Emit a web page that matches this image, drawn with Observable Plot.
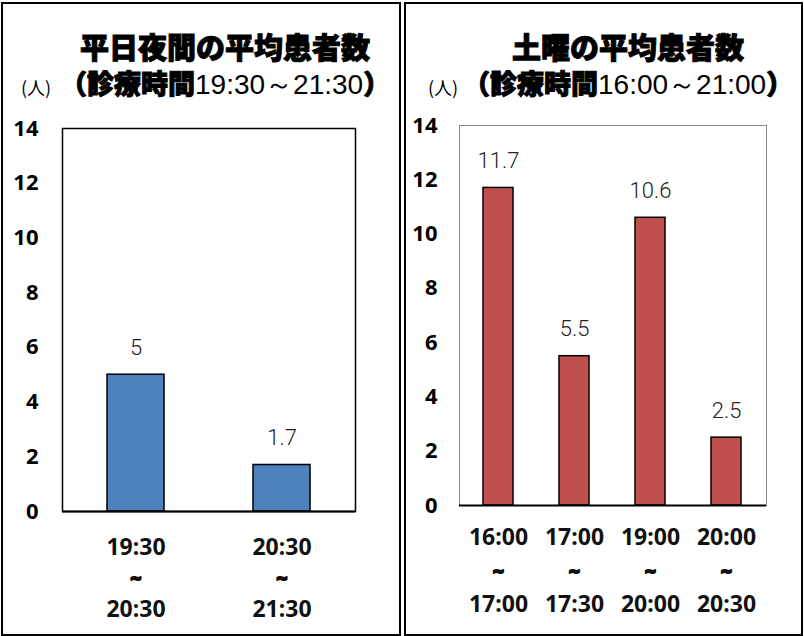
<!DOCTYPE html>
<html><head><meta charset="utf-8">
<script src="https://cdn.jsdelivr.net/npm/d3@7"></script>
<script src="https://cdn.jsdelivr.net/npm/@observablehq/plot@0.6"></script>
<style>
body{margin:0;width:804px;height:636px;position:relative;background:#fff;overflow:hidden;font-family:"Noto Sans CJK JP",sans-serif;color:#000;}
.panel{position:absolute;border:2px solid #000;box-sizing:border-box;}
.abs{position:absolute;white-space:nowrap;line-height:1;}
.title{font-size:29px;font-weight:900;text-align:center;-webkit-text-stroke:1px #000;}
.sub{font-size:27px;}
.sub b{font-weight:900;-webkit-text-stroke:1px #000;}
.sub span{font-family:"Liberation Sans",sans-serif;font-weight:400;font-size:28px;}
.unit{font-size:18px;}
.chart{position:absolute;top:0;}
</style></head><body>
<div class="panel" style="left:1px;top:2px;width:400px;height:634px"></div>
<div class="panel" style="left:404px;top:2px;width:399px;height:634px"></div>
<div class="abs title" style="left:0;top:32px;width:450px">平日夜間の平均患者数</div>
<div class="abs title" style="left:403px;top:32px;width:450px">土曜の平均患者数</div>
<div class="abs unit" style="left:21px;top:78px">(人)</div>
<div class="abs unit" style="left:428px;top:78px">(人)</div>
<div class="abs sub" style="left:60px;top:69px"><b>（診療時間</b><span>19:30～21:30</span><b>）</b></div>
<div class="abs sub" style="left:463px;top:69px"><b>（診療時間</b><span>16:00～21:00</span><b>）</b></div>
<div id="c1" class="chart" style="left:0"></div>
<div id="c2" class="chart" style="left:403px"></div>
<script>
const weekdayStart = ["19:30", "20:30"];
const weekdayEnd = ["20:30", "21:30"];
const weekdayValues = [5, 1.7];
const saturdayStart = ["16:00", "17:00", "19:00", "20:00"];
const saturdayEnd = ["17:00", "17:30", "20:00", "20:30"];
const saturdayValues = [11.7, 5.5, 10.6, 2.5];
const yTicks = [0, 2, 4, 6, 8, 10, 12, 14];

function makeChart(starts, ends, vals, opts) {
  const data = starts.map((s, i) => ({c: s + "~" + ends[i], s, e: ends[i], v: vals[i]}));
  const cats = data.map(d => d.c);
  const lab = {x: "c", frameAnchor: "bottom", fontSize: 23, fontWeight: "bold", fill: "#111"};
  return Plot.plot({
    width: opts.width, height: 636,
    marginTop: opts.top, marginBottom: 636 - opts.bottom,
    marginLeft: opts.left, marginRight: opts.width - opts.right,
    style: {fontFamily: "'Noto Sans', sans-serif", color: "#000", background: "transparent", overflow: "visible"},
    x: {domain: cats, paddingInner: opts.padding, paddingOuter: opts.padding / 2, label: null, axis: null},
    y: {domain: [0, 14], label: null},
    marks: [
      Plot.frame({stroke: opts.frameColor, strokeWidth: opts.frameWidth}),
      Plot.barY(data, {x: "c", y: "v", fill: opts.fill, stroke: "#000", strokeWidth: 1.5}),
      Plot.ruleY([0], {stroke: "#000", strokeWidth: 2}),
      Plot.text(data, {x: "c", y: "v", text: d => String(d.v), dy: -27, fontSize: 22, fontWeight: 300, fill: "#222", fontFamily: "Roboto, sans-serif"}),
      Plot.axisY({ticks: yTicks, tickSize: 0, tickPadding: opts.ypad, fontSize: 22, fontWeight: "bold", label: null}),
      Plot.text(data, {...lab, text: "s", dy: opts.dy[0]}),
      Plot.text(data, {...lab, text: () => "~", dy: opts.dy[1], fontSize: 19, stroke: "#111", strokeWidth: 2}),
      Plot.text(data, {...lab, text: "e", dy: opts.dy[2]})
    ]
  });
}

document.getElementById("c1").append(makeChart(weekdayStart, weekdayEnd, weekdayValues,
  {width: 400, top: 128, bottom: 511, left: 62, right: 355, padding: 0.61, fill: "#4F81BD", frameColor: "#000", frameWidth: 1.5, ypad: 24, dy: [43, 73, 105]}));
document.getElementById("c2").append(makeChart(saturdayStart, saturdayEnd, saturdayValues,
  {width: 399, top: 125, bottom: 505, left: 56, right: 363, padding: 0.6, fill: "#C0504D", frameColor: "#888", frameWidth: 1, ypad: 22, dy: [39, 72, 106]}));
</script>
</body></html>
